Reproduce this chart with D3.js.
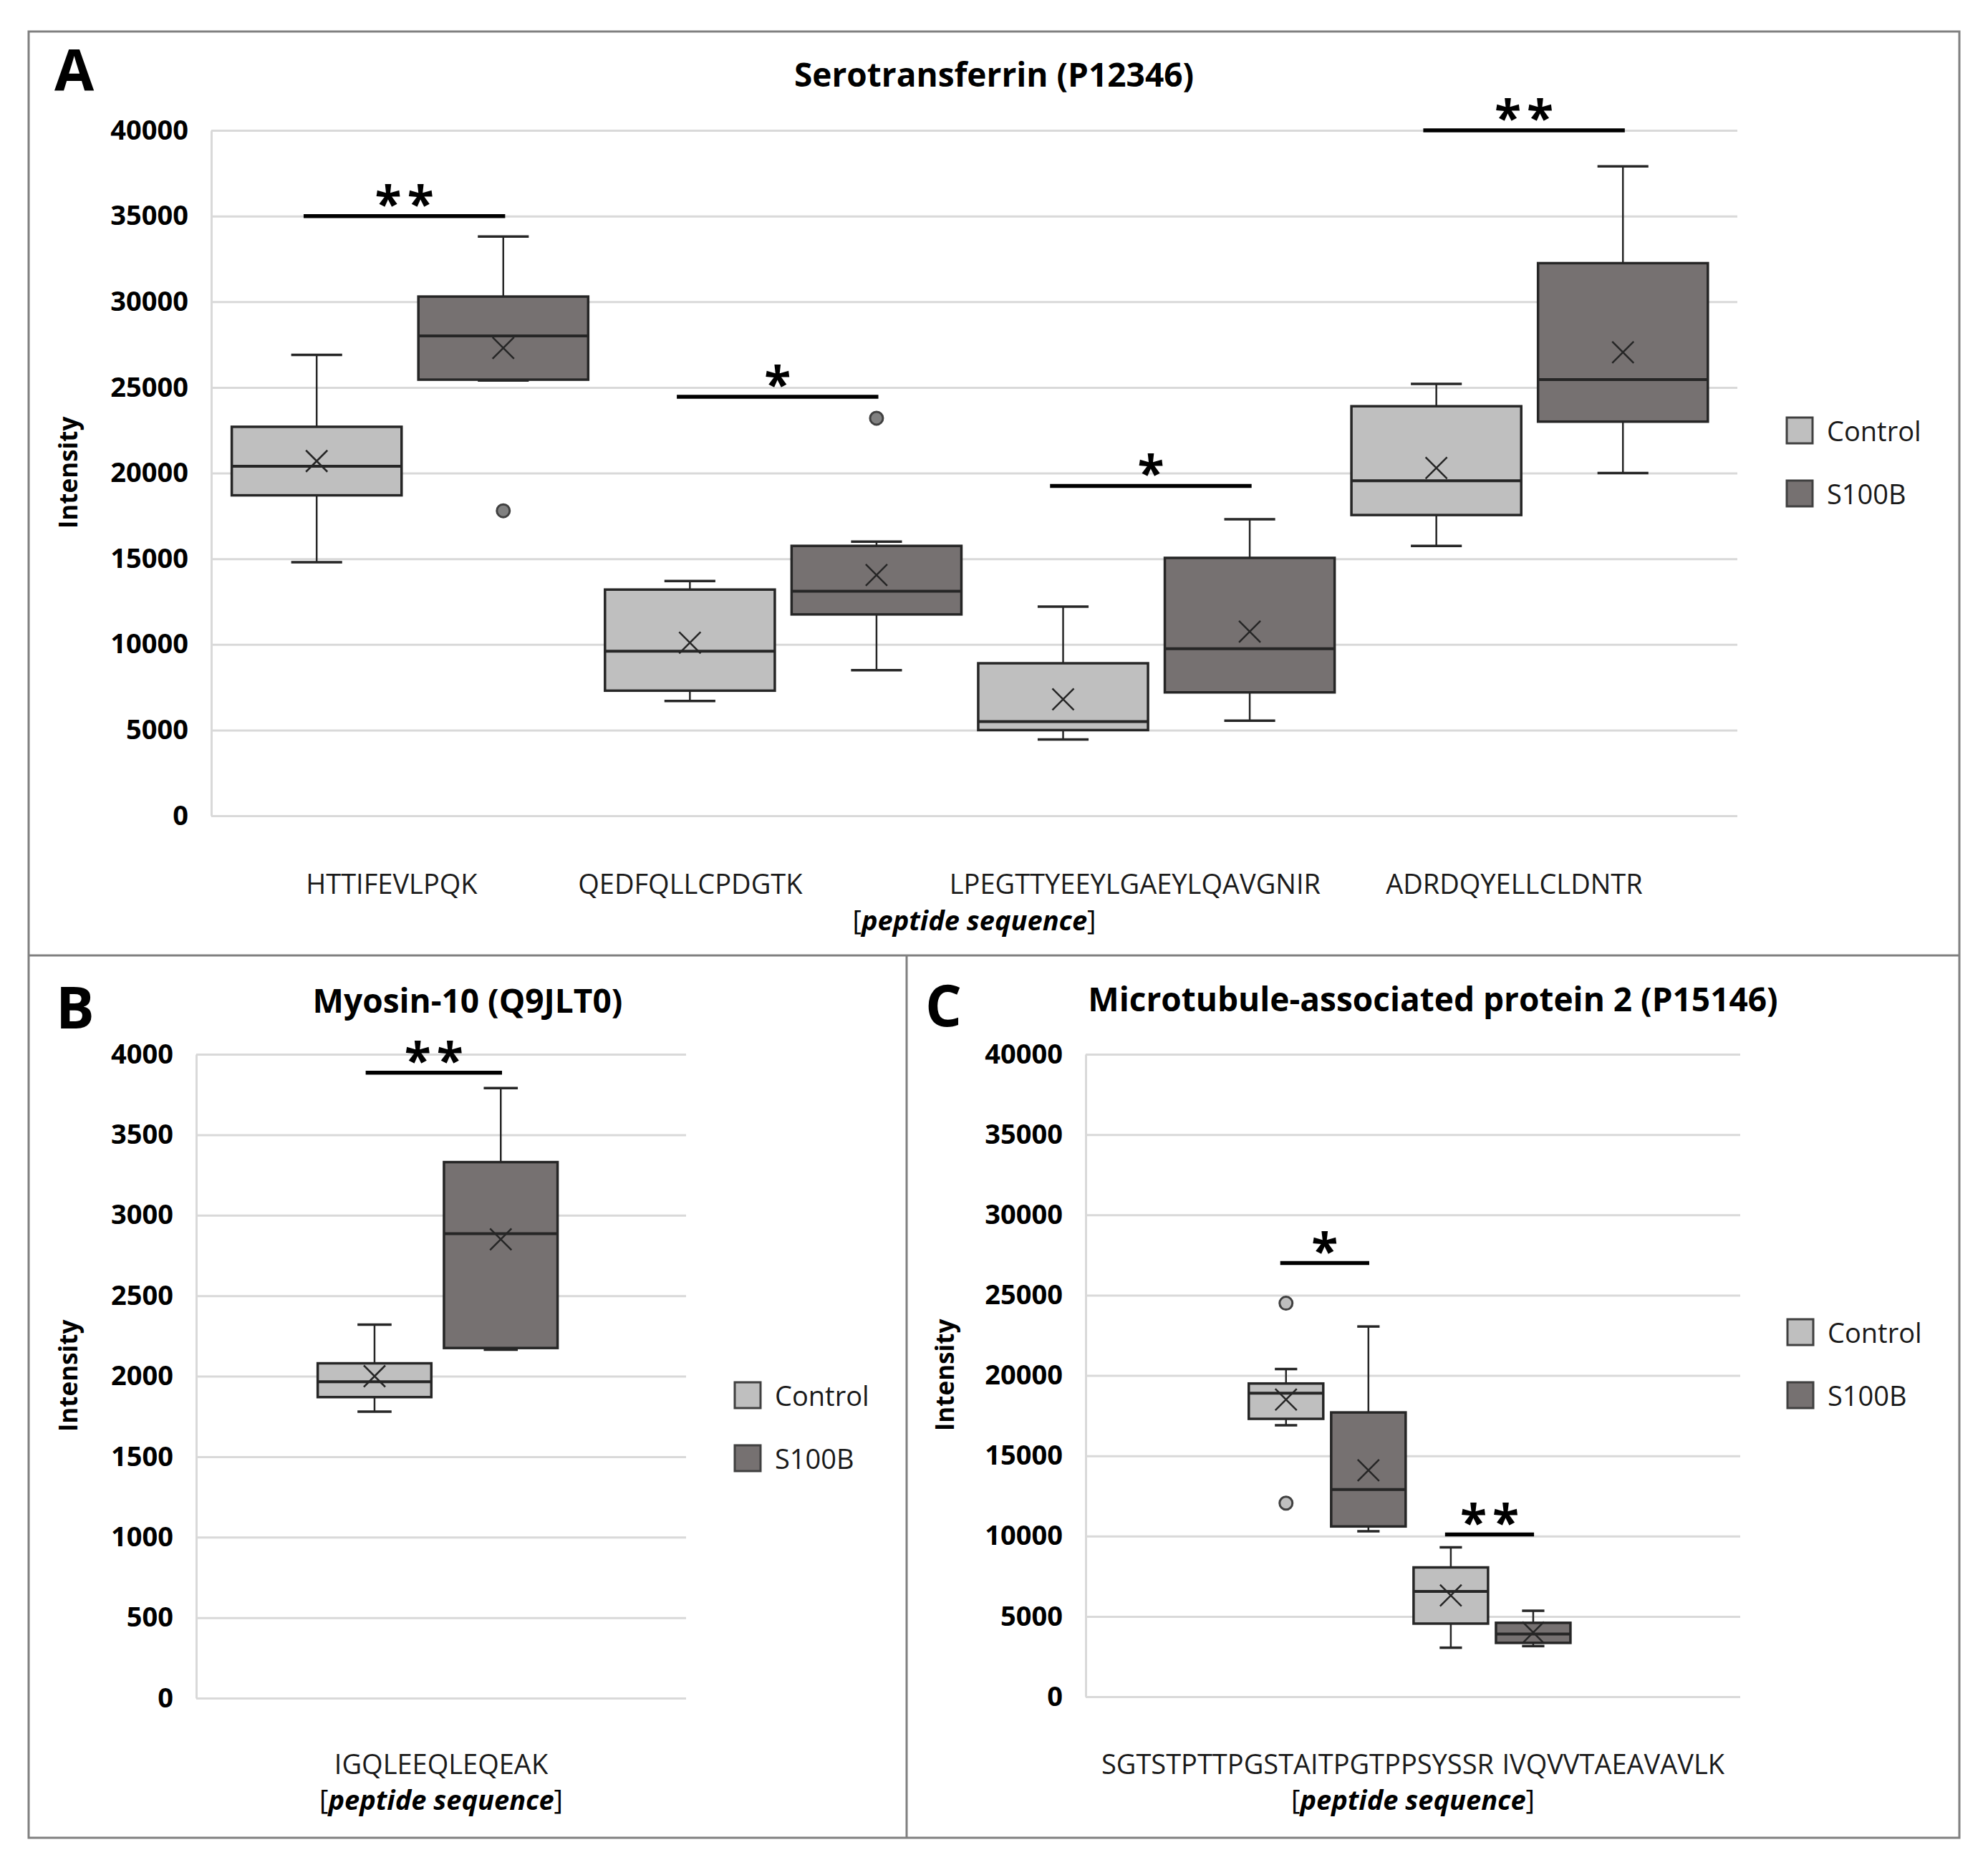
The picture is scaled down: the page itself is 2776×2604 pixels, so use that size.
<!DOCTYPE html>
<html>
<head>
<meta charset="utf-8">
<script src="https://cdn.jsdelivr.net/npm/d3@7"></script>
<style>
  body { margin: 0; background: #fff; }
  text { font-family: "Open Sans", sans-serif; }
</style>
</head>
<body>
<svg id="chart" width="2776" height="2604"></svg>
<script>
var groups = ["Control", "S100B"];
var groupFill = {Control: "#bfbfbf", S100B: "#767171"};

// A - Serotransferrin. box order: Control, S100B for each peptide
var peptidesA = ["HTTIFEVLPQK", "QEDFQLLCPDGTK", "LPEGTTYEEYLGAEYLQAVGNIR", "ADRDQYELLCLDNTR"];
var lowA  = [14800, 25400, 6700, 8500, 4450, 5550, 15750, 20000];
var q1A   = [18700, 25450, 7300, 11750, 5000, 7200, 17550, 23000];
var medA  = [20400, 28000, 9600, 13100, 5500, 9750, 19550, 25450];
var q3A   = [22700, 30300, 13200, 15750, 8900, 15050, 23900, 32250];
var highA = [26900, 33800, 13700, 16000, 12200, 17300, 25200, 37900];
var meanA = [20700, 27300, 10100, 14050, 6800, 10750, 20300, 27050];
var outA  = [[], [17800], [], [23200], [], [], [], []];
var sigA  = [["**", 35000], ["*", 24450], ["*", 19250], ["**", 40000]];
var ticksA = [0, 5000, 10000, 15000, 20000, 25000, 30000, 35000, 40000];

// B - Myosin-10
var peptidesB = ["IGQLEEQLEQEAK"];
var lowB  = [1780, 2165];
var q1B   = [1870, 2175];
var medB  = [1965, 2885];
var q3B   = [2080, 3330];
var highB = [2320, 3790];
var meanB = [2000, 2850];
var outB  = [[], []];
var sigB  = [["**", 3885]];
var ticksB = [0, 500, 1000, 1500, 2000, 2500, 3000, 3500, 4000];

// C - MAP2
var peptidesC = ["SGTSTPTTPGSTAITPGTPPSYSSR", "IVQVVTAEAVAVLK"];
var lowC  = [16900, 10300, 3050, 3150];
var q1C   = [17300, 10600, 4550, 3350];
var medC  = [18900, 12900, 6550, 3900];
var q3C   = [19500, 17700, 8050, 4600];
var highC = [20400, 23050, 9300, 5350];
var meanC = [18500, 14100, 6300, 4000];
var outC  = [[24500, 12050], [], [], []];
var sigC  = [["*", 27000], ["**", 10100]];
var ticksC = [0, 5000, 10000, 15000, 20000, 25000, 30000, 35000, 40000];

var panels = [
  {letter: "A", title: "Serotransferrin (P12346)", peptides: peptidesA,
   low: lowA, q1: q1A, med: medA, q3: q3A, high: highA, mean: meanA, out: outA, sig: sigA, ticks: ticksA,
   plot: {x0: 295, x1: 2426, y0: 1139, y1: 182}, band: [0.09, 0.134, 0.41],
   letterAt: [76, 127], titleAt: [1388, 121], yLabelAt: [96, 660], legendAt: [2495, 583],
   catY: 1248, seqY: 1299, gaps: [3.7, 5.4, 2.4]},
  {letter: "B", title: "Myosin-10 (Q9JLT0)", peptides: peptidesB,
   low: lowB, q1: q1B, med: medB, q3: q3B, high: highB, mean: meanB, out: outB, sig: sigB, ticks: ticksB,
   plot: {x0: 274, x1: 958, y0: 2371, y1: 1472}, band: [0.1, 0.99, 0.486],
   letterAt: [78, 1436], titleAt: [653, 1414], yLabelAt: [96, 1921], legendAt: [1026, 1930],
   catY: 2477, seqY: 2527, gaps: []},
  {letter: "C", title: "Microtubule-associated protein 2 (P15146)", peptides: peptidesC,
   low: lowC, q1: q1C, med: medC, q3: q3C, high: highC, mean: meanC, out: outC, sig: sigC, ticks: ticksC,
   plot: {x0: 1516, x1: 2430, y0: 2369, y1: 1472}, band: [0.096, 2.02, 0.49],
   letterAt: [1292, 1433], titleAt: [2001, 1412], yLabelAt: [1320, 1920], legendAt: [2496, 1842],
   catY: 2477, seqY: 2527, gaps: [0.3]}
];

var svg = d3.select("#chart");

// frame and panel dividers
svg.append("rect").attr("x", 40).attr("y", 44).attr("width", 2696).attr("height", 2522)
   .attr("fill", "none").attr("stroke", "#808080").attr("stroke-width", 3);
svg.append("line").attr("x1", 40).attr("x2", 2736).attr("y1", 1334).attr("y2", 1334)
   .attr("stroke", "#808080").attr("stroke-width", 3);
svg.append("line").attr("x1", 1266).attr("x2", 1266).attr("y1", 1334).attr("y2", 2566)
   .attr("stroke", "#808080").attr("stroke-width", 3);

function drawPanel(p) {
    var g = svg.append("g");
    var y = d3.scaleLinear().domain([0, d3.max(p.ticks)]).range([p.plot.y0, p.plot.y1]);
    var x = d3.scaleBand().domain(d3.range(p.low.length))
              .range([p.plot.x0, p.plot.x1])
              .paddingInner(p.band[0]).paddingOuter(p.band[1]).align(p.band[2]);
    var bw = x.bandwidth();
    var cx = function(i) { return x(i) + bw / 2; };

    var axis = d3.axisLeft(y).tickValues(p.ticks)
                 .tickSize(-(p.plot.x1 - p.plot.x0)).tickSizeOuter(0)
                 .tickPadding(32).tickFormat(d3.format("d"));
    var ag = g.append("g").attr("transform", "translate(" + p.plot.x0 + ",0)").call(axis);
    ag.attr("font-family", null).attr("font-size", null);
    ag.select(".domain").attr("stroke", "#d9d9d9").attr("stroke-width", 3);
    ag.selectAll(".tick line").attr("stroke", "#d9d9d9").attr("stroke-width", 3);
    ag.selectAll(".tick text").attr("font-size", 38).attr("font-weight", "bold").attr("fill", "#000");

    var boxes = p.low.map(function(lo, i) {
        return {i: i, group: groups[i % 2], low: lo, q1: p.q1[i], med: p.med[i],
                q3: p.q3[i], high: p.high[i], mean: p.mean[i], out: p.out[i]};
    });

    var b = g.selectAll(".box").data(boxes).enter().append("g").attr("class", "box");
    // whiskers
    b.append("line").attr("x1", function(d) { return cx(d.i); }).attr("x2", function(d) { return cx(d.i); })
     .attr("y1", function(d) { return y(d.low); }).attr("y2", function(d) { return y(d.high); })
     .attr("stroke", "#262626").attr("stroke-width", 2.5);
    // caps
    ["low", "high"].forEach(function(k) {
        b.append("line")
         .attr("x1", function(d) { return cx(d.i) - bw * 0.15; })
         .attr("x2", function(d) { return cx(d.i) + bw * 0.15; })
         .attr("y1", function(d) { return y(d[k]); }).attr("y2", function(d) { return y(d[k]); })
         .attr("stroke", "#262626").attr("stroke-width", 3.5);
    });
    b.append("rect").attr("x", function(d) { return x(d.i); }).attr("width", bw)
     .attr("y", function(d) { return y(d.q3); })
     .attr("height", function(d) { return y(d.q1) - y(d.q3); })
     .attr("fill", function(d) { return groupFill[d.group]; })
     .attr("stroke", "#262626").attr("stroke-width", 3.5);
    b.append("line").attr("x1", function(d) { return x(d.i); }).attr("x2", function(d) { return x(d.i) + bw; })
     .attr("y1", function(d) { return y(d.med); }).attr("y2", function(d) { return y(d.med); })
     .attr("stroke", "#262626").attr("stroke-width", 4);
    // mean marker
    b.append("path").attr("d", function(d) {
        var mx = cx(d.i), my = y(d.mean), h = 15;
        return "M" + (mx - h) + "," + (my - h) + "L" + (mx + h) + "," + (my + h) +
               "M" + (mx + h) + "," + (my - h) + "L" + (mx - h) + "," + (my + h);
    }).attr("stroke", "#262626").attr("stroke-width", 2.5).attr("fill", "none");
    // outliers
    b.selectAll("circle").data(function(d) { return d.out.map(function(v) { return {i: d.i, v: v, group: d.group}; }); })
     .enter().append("circle")
     .attr("cx", function(d) { return cx(d.i); }).attr("cy", function(d) { return y(d.v); })
     .attr("r", 9).attr("fill", function(d) { return d.group === "Control" ? "#bfbfbf" : "#808080"; })
     .attr("stroke", "#404040").attr("stroke-width", 3);

    // significance bars
    p.sig.forEach(function(s, k) {
        var c0 = cx(2 * k), c1 = cx(2 * k + 1), st = x.step();
        var mid = (c0 + c1) / 2 - 0.03 * st, half = (c1 - c0) / 2 + 0.04 * st;
        g.append("line").attr("x1", mid - half).attr("x2", mid + half)
         .attr("y1", y(s[1])).attr("y2", y(s[1]))
         .attr("stroke", "#000").attr("stroke-width", 5.5);
        g.append("text").attr("x", mid + (s[0].length > 1 ? 4 : 0)).attr("y", y(s[1]) + 7)
         .attr("text-anchor", "middle").attr("font-size", 68).attr("font-weight", "bold")
         .attr("letter-spacing", s[0].length > 1 ? 8 : 0)
         .text(s[0]);
    });

    // titles and labels
    g.append("text").attr("x", p.letterAt[0]).attr("y", p.letterAt[1])
     .attr("font-size", 80).attr("font-weight", "bold").text(p.letter);
    g.append("text").attr("x", p.titleAt[0]).attr("y", p.titleAt[1]).attr("text-anchor", "middle")
     .attr("font-size", 46).attr("font-weight", "bold").text(p.title);
    g.append("text").attr("transform", "translate(" + p.yLabelAt + ") rotate(-90)")
     .attr("text-anchor", "middle").attr("dy", "0.35em")
     .attr("font-size", 35).attr("font-weight", "bold").text("Intensity");

    var pc = (p.plot.x0 + p.plot.x1) / 2;
    var cat = g.append("text").attr("x", pc).attr("y", p.catY).attr("text-anchor", "middle")
               .attr("font-size", 38).attr("fill", "#1a1a1a");
    p.peptides.forEach(function(pep, i) {
        cat.append("tspan").attr("dx", i === 0 ? 0 : p.gaps[i - 1] + "em").text(pep);
    });
    var seq = g.append("text").attr("x", pc).attr("y", p.seqY).attr("text-anchor", "middle")
               .attr("font-size", 38).attr("fill", "#000");
    seq.append("tspan").text("[");
    seq.append("tspan").attr("font-weight", "bold").attr("font-style", "italic").text("peptide sequence");
    seq.append("tspan").text("]");

    // legend
    var lg = g.append("g").attr("transform", "translate(" + p.legendAt + ")");
    groups.forEach(function(gr, j) {
        lg.append("rect").attr("x", 0).attr("y", j * 88).attr("width", 36).attr("height", 36)
          .attr("fill", groupFill[gr]).attr("stroke", "#404040").attr("stroke-width", 3);
        lg.append("text").attr("x", 56).attr("y", j * 88 + 33).attr("font-size", 38)
          .attr("fill", "#1a1a1a").text(gr);
    });
}

panels.forEach(drawPanel);
</script>
</body>
</html>
